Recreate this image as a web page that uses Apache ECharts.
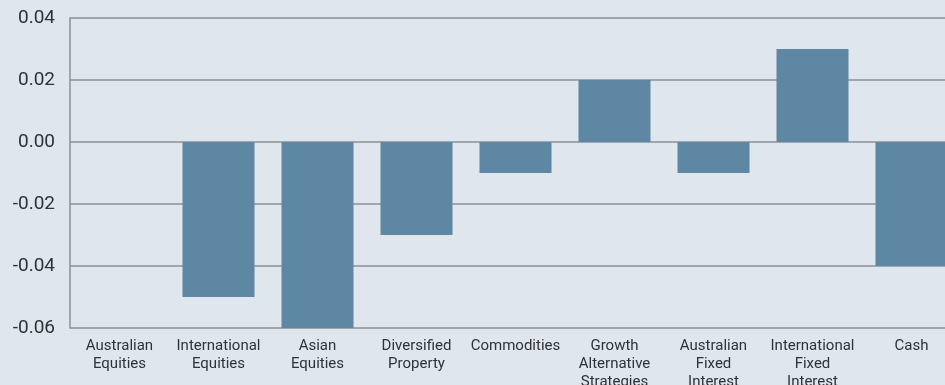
<!DOCTYPE html>
<html>
<head>
<meta charset="utf-8">
<script src="https://cdn.jsdelivr.net/npm/echarts@6/dist/echarts.min.js"></script>
<style>
  html, body { margin: 0; padding: 0; background: #dfe6ed; }
  #chart { width: 945px; height: 385px; }
</style>
</head>
<body>
<div id="chart"></div>
<script>
// Asset classes and their relative positioning
const categories = [
  'Australian\nEquities',
  'International\nEquities',
  'Asian\nEquities',
  'Diversified\nProperty',
  'Commodities',
  'Growth\nAlternative\nStrategies',
  'Australian\nFixed\nInterest',
  'International\nFixed\nInterest',
  'Cash'
];
const values = [0, -0.05, -0.06, -0.03, -0.01, 0.02, -0.01, 0.03, -0.04];
const yMin = -0.06;
const yMax = 0.04;
const yStep = 0.02;

const chart = echarts.init(document.getElementById('chart'), null, { renderer: 'canvas' });
chart.setOption({
  backgroundColor: '#dfe6ed',
  animation: false,
  grid: {
    left: 70, right: -16, top: 18, bottom: 57,
    containLabel: false,
    outerBoundsMode: 'none'
  },
  xAxis: {
    type: 'category',
    data: categories,
    axisLine: { show: false },
    axisTick: { show: false },
    axisLabel: {
      interval: 0,
      margin: 9,
      color: '#2f3236',
      fontFamily: 'Roboto',
      fontSize: 15,
      lineHeight: 18
    }
  },
  yAxis: {
    type: 'value',
    min: yMin,
    max: yMax,
    interval: yStep,
    axisLine: { show: true, lineStyle: { color: '#8d9196', width: 1.5 } },
    axisTick: { show: false },
    splitLine: { lineStyle: { color: '#8d9196', width: 1.5 } },
    axisLabel: {
      margin: 15,
      color: '#2f3236',
      fontFamily: 'Roboto',
      fontSize: 19,
      formatter: v => v.toFixed(2)
    }
  },
  series: [{
    type: 'bar',
    data: values,
    barWidth: 72,
    itemStyle: { color: '#5e87a3' }
  }]
});
</script>
</body>
</html>
